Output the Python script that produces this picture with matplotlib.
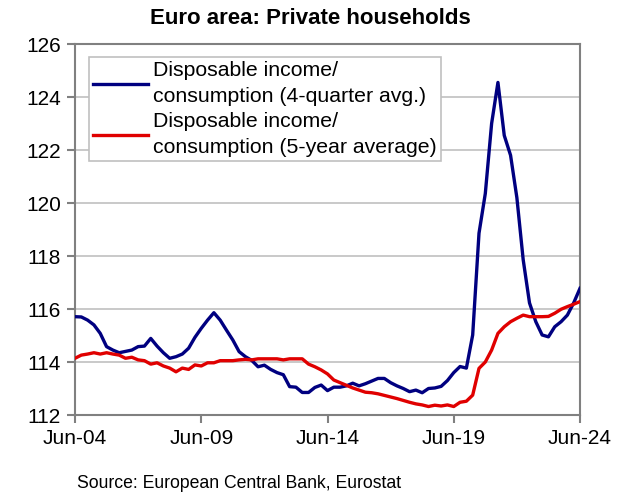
import matplotlib
matplotlib.use("Agg")
import matplotlib.pyplot as plt
import numpy as np

plt.rcParams['font.family'] = ['Liberation Sans', 'DejaVu Sans']

# Quarterly data, Jun-04 .. Jun-24 (81 quarters)
income_4q = [
    115.71, 115.70, 115.58, 115.40, 115.08, 114.58, 114.45, 114.35, 114.40, 114.45,
    114.58, 114.60, 114.89, 114.60, 114.35, 114.14, 114.20, 114.30, 114.52, 114.93,
    115.27, 115.58, 115.86, 115.58, 115.20, 114.83, 114.39, 114.20, 114.06, 113.82,
    113.88, 113.72, 113.60, 113.52, 113.07, 113.05, 112.85, 112.85, 113.04, 113.13,
    112.92, 113.05, 113.05, 113.10, 113.20, 113.10, 113.18, 113.28, 113.38, 113.38,
    113.22, 113.10, 113.00, 112.88, 112.94, 112.84, 113.00, 113.02, 113.08, 113.30,
    113.60, 113.83, 113.77, 115.02, 118.86, 120.36, 123.00, 124.55, 122.55, 121.80,
    120.20, 117.86, 116.23, 115.52, 115.02, 114.95, 115.33, 115.52, 115.77, 116.23,
    116.78,
]
income_5y = [
    114.14, 114.26, 114.30, 114.35, 114.30, 114.35, 114.30, 114.26, 114.14, 114.18,
    114.08, 114.05, 113.92, 113.97, 113.85, 113.77, 113.63, 113.77, 113.72, 113.89,
    113.85, 113.97, 113.97, 114.05, 114.05, 114.05, 114.08, 114.10, 114.08, 114.12,
    114.12, 114.12, 114.12, 114.08, 114.12, 114.12, 114.12, 113.92, 113.82, 113.70,
    113.55, 113.32, 113.22, 113.12, 113.02, 112.94, 112.86, 112.84, 112.80, 112.74,
    112.68, 112.62, 112.55, 112.48, 112.42, 112.38, 112.32, 112.37, 112.34, 112.38,
    112.32, 112.48, 112.52, 112.75, 113.76, 114.00, 114.45, 115.08, 115.33, 115.52,
    115.65, 115.77, 115.71, 115.71, 115.71, 115.72, 115.84, 115.99, 116.09, 116.18,
    116.28,
]
tick_labels = ["Jun-04", "Jun-09", "Jun-14", "Jun-19", "Jun-24"]
y_ticks = [112, 114, 116, 118, 120, 122, 124, 126]
label_4q = "Disposable income/\nconsumption (4-quarter avg.)"
label_5y = "Disposable income/\nconsumption (5-year average)"

fig = plt.figure(figsize=(6.22, 4.94), dpi=100)
ax = fig.add_axes([75/622, 1-415/494, (580-75)/622, (415-44)/494])

x = np.arange(len(income_4q))
ax.plot(x, income_4q, color="#000080", lw=2.4, label=label_4q, zorder=3)
ax.plot(x, income_5y, color="#e00000", lw=2.4, label=label_5y, zorder=3)

ax.set_xlim(0, len(x) - 1)
ax.set_ylim(112, 126)
ax.set_yticks(y_ticks)
ax.set_yticklabels([str(v) for v in y_ticks], fontsize=15)
ax.set_xticks(np.arange(0, len(x), 20))
ax.set_xticklabels(tick_labels, fontsize=15)
ax.grid(axis="y", color="#c0c0c0", lw=1.2)
ax.set_axisbelow(True)
for s in ax.spines.values():
    s.set_color("#808080")
    s.set_linewidth(1.5)
ax.tick_params(axis="both", direction="out", color="#808080", width=1.5, length=6, pad=4)

leg = ax.legend(loc="upper left", bbox_to_anchor=(0.027, 0.965), fontsize=15.3,
                frameon=True, fancybox=False, edgecolor="#c0c0c0", framealpha=1,
                handlelength=2.6, handletextpad=0.25, borderpad=0.2, labelspacing=0.3,
                borderaxespad=0)
leg.get_frame().set_linewidth(1.2)
for t in leg.get_texts():
    t.set_linespacing(1.45)

fig.text(310/622, 1-18/494, "Euro area: Private households", ha="center", va="center",
         fontsize=16, fontweight="bold")
fig.text(77/622, 1-483/494, "Source: European Central Bank, Eurostat", ha="left",
         va="center", fontsize=12.7)

fig.savefig("out.png", dpi=100)
